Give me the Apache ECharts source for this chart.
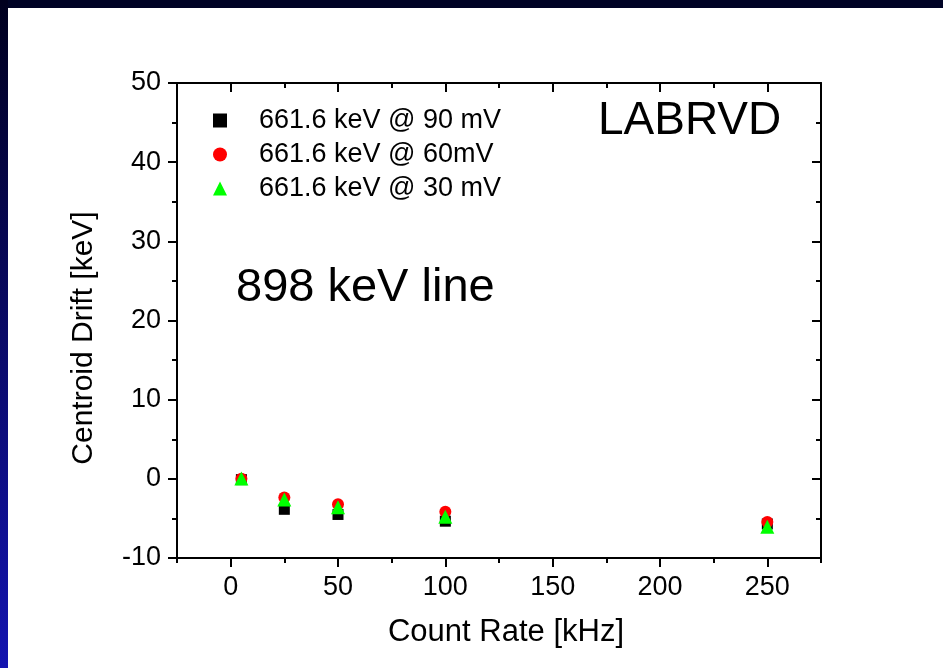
<!DOCTYPE html>
<html>
<head>
<meta charset="utf-8">
<script src="https://cdn.jsdelivr.net/npm/echarts@6/dist/echarts.min.js"></script>
<style>
html,body{margin:0;padding:0;background:#fff;}
#chart{width:943px;height:668px;}
</style>
</head>
<body>
<div id="chart"></div>
<script>
// ---- data ----
var countRate = [5, 25, 50, 100, 250];
var drift90mV = [-0.1, -3.85, -4.5, -5.35, -5.7];
var drift60mV = [0.0, -2.35, -3.2, -4.15, -5.45];
var drift30mV = [0.05, -2.6, -3.6, -4.8, -6.05];
var seriesNames = ['661.6 keV @ 90 mV', '661.6 keV @ 60mV', '661.6 keV @ 30 mV'];
var xTickValues = [0, 50, 100, 150, 200, 250];
var xAxisTitle = 'Count Rate [kHz]';
var yAxisTitle = 'Centroid Drift [keV]';
var annotationLine = '898 keV line';
var annotationTitle = 'LABRVD';

function pairs(xs, ys) { return xs.map(function (x, i) { return [x, ys[i]]; }); }

var FONT = '"Liberation Sans", Arial, sans-serif';
var axisLineStyle = { color: '#000', width: 2 };

var chart = echarts.init(document.getElementById('chart'), null, { renderer: 'canvas' });

var option = {
  backgroundColor: '#ffffff',
  animation: false,
  grid: { left: 177, right: 122, top: 83, bottom: 110, containLabel: false },
  xAxis: [
    {
      type: 'value', position: 'bottom', min: -25, max: 275,
      axisLine: { show: true, onZero: false, lineStyle: axisLineStyle },
      axisTick: { show: true, inside: false, length: 9, customValues: xTickValues, lineStyle: axisLineStyle },
      axisLabel: { show: true, customValues: xTickValues, margin: 16, fontSize: 27, fontFamily: FONT, color: '#000' },
      splitLine: { show: false }
    },
    {
      type: 'value', position: 'bottom', offset: 0, min: -25, max: 275, interval: 25,
      axisLine: { show: false, onZero: false },
      axisTick: { show: true, inside: false, length: 5, lineStyle: axisLineStyle },
      axisLabel: { show: false }, splitLine: { show: false }
    },
    {
      type: 'value', position: 'top', min: -25, max: 275,
      axisLine: { show: true, onZero: false, lineStyle: axisLineStyle },
      axisTick: { show: true, inside: true, length: 9, customValues: xTickValues, lineStyle: axisLineStyle },
      axisLabel: { show: false }, splitLine: { show: false }
    },
    {
      type: 'value', position: 'top', offset: 0, min: -25, max: 275, interval: 25,
      axisLine: { show: false, onZero: false },
      axisTick: { show: true, inside: true, length: 5, lineStyle: axisLineStyle },
      axisLabel: { show: false }, splitLine: { show: false }
    }
  ],
  yAxis: [
    {
      type: 'value', position: 'left', min: -10, max: 50, interval: 10,
      axisLine: { show: true, onZero: false, lineStyle: axisLineStyle },
      axisTick: { show: true, inside: false, length: 9, lineStyle: axisLineStyle },
      minorTick: { show: true, splitNumber: 2, length: 5, lineStyle: axisLineStyle },
      axisLabel: { show: true, margin: 16, fontSize: 27, fontFamily: FONT, color: '#000' },
      splitLine: { show: false }, minorSplitLine: { show: false }
    },
    {
      type: 'value', position: 'right', min: -10, max: 50, interval: 10,
      axisLine: { show: true, onZero: false, lineStyle: axisLineStyle },
      axisTick: { show: true, inside: true, length: 9, lineStyle: axisLineStyle },
      minorTick: { show: true, splitNumber: 2, length: 5, lineStyle: axisLineStyle },
      axisLabel: { show: false },
      splitLine: { show: false }, minorSplitLine: { show: false }
    }
  ],
  legend: {
    orient: 'vertical', left: 208, top: 101,
    itemWidth: 14, itemHeight: 14, itemGap: 5,
    data: seriesNames,
    textStyle: { fontSize: 27, fontFamily: FONT, color: '#000', padding: [0, 0, 0, 27], lineHeight: 29 }
  },
  series: [
    {
      name: seriesNames[0], type: 'scatter', xAxisIndex: 0, yAxisIndex: 0,
      symbol: 'rect', symbolSize: 11, itemStyle: { color: '#000000', opacity: 1 },
      data: pairs(countRate, drift90mV), z: 2
    },
    {
      name: seriesNames[1], type: 'scatter', xAxisIndex: 0, yAxisIndex: 0,
      symbol: 'circle', symbolSize: 12, itemStyle: { color: '#ff0000', opacity: 1 },
      data: pairs(countRate, drift60mV), z: 3
    },
    {
      name: seriesNames[2], type: 'scatter', xAxisIndex: 0, yAxisIndex: 0,
      symbol: 'triangle', symbolSize: 14, itemStyle: { color: '#00ff00', opacity: 1 },
      data: pairs(countRate, drift30mV), z: 4
    }
  ],
  graphic: [
    {
      type: 'rect', z: -10, shape: { x: 0, y: 0, width: 943, height: 8 },
      style: { fill: '#000326' }
    },
    {
      type: 'rect', z: -10, shape: { x: 0, y: 0, width: 8, height: 668 },
      style: {
        fill: new echarts.graphic.LinearGradient(0, 0, 0, 1, [
          { offset: 0, color: '#00001e' },
          { offset: 1, color: '#1414b0' }
        ])
      }
    },
    {
      type: 'text', x: 236, y: 288,
      style: { text: annotationLine, fontSize: 47, fontFamily: FONT, fill: '#000', verticalAlign: 'middle' }
    },
    {
      type: 'text', x: 598, y: 121,
      style: { text: annotationTitle, fontSize: 46, fontFamily: FONT, fill: '#000', verticalAlign: 'middle' }
    },
    {
      type: 'text', x: 506, y: 632,
      style: { text: xAxisTitle, fontSize: 31, fontFamily: FONT, fill: '#000', align: 'center', verticalAlign: 'middle' }
    },
    {
      type: 'text', x: 84, y: 338, rotation: Math.PI / 2,
      style: { text: yAxisTitle, fontSize: 30, fontFamily: FONT, fill: '#000', align: 'center', verticalAlign: 'middle' }
    }
  ]
};

chart.setOption(option);
</script>
</body>
</html>
